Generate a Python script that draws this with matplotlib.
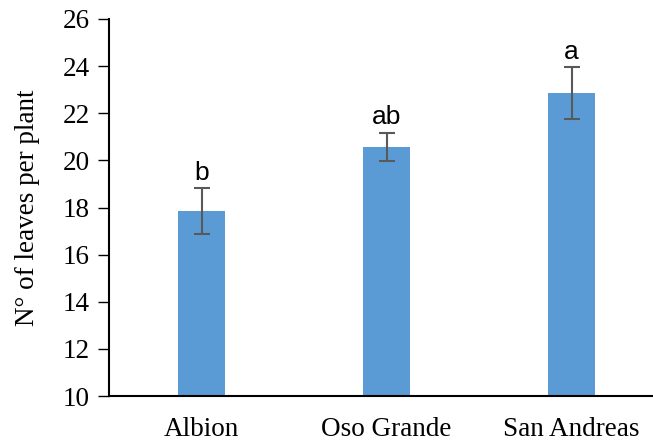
import matplotlib.pyplot as plt

varieties = ["Albion", "Oso Grande", "San Andreas"]
leaves = [17.85, 20.57, 22.85]
errors = [0.97, 0.6, 1.1]
letters = ["b", "ab", "a"]


def main():
    fig = plt.figure(figsize=(6.53, 4.45), dpi=100)
    ax = fig.add_axes([109 / 653, 49 / 445, 555 / 653, 377 / 445])

    x = range(len(varieties))
    ax.bar(x, leaves, width=0.25, color="#5B9BD5", zorder=2)
    ax.errorbar(x, leaves, yerr=errors, fmt="none", ecolor="#595959",
                elinewidth=1.5, capsize=6, capthick=1.5, zorder=3)
    for xi, v, e, lab in zip(x, leaves, errors, letters):
        ax.text(xi, v + e + 0.15, lab, ha="center", va="bottom",
                fontsize=19, family="Liberation Sans")

    ax.set_xlim(-0.5, 2.5)
    ax.set_ylim(10, 26)
    ax.set_yticks(range(10, 27, 2))
    ax.set_xticks(list(x))
    ax.set_xticklabels(varieties)
    ax.tick_params(axis="x", length=0, pad=15)
    ax.tick_params(axis="y", length=8, width=1, direction="out", pad=6)
    for lab in ax.get_xticklabels() + ax.get_yticklabels():
        lab.set_family("Liberation Serif")
        lab.set_fontsize(19.5)
    ax.set_ylabel("N° of leaves per plant", family="Liberation Serif",
                  fontsize=19.5, labelpad=16)

    ax.spines["top"].set_visible(False)
    ax.spines["right"].set_visible(False)
    ax.spines["left"].set_linewidth(1.5)
    ax.spines["bottom"].set_linewidth(1.5)

    fig.savefig("out.png", dpi=100)


if __name__ == "__main__":
    main()
